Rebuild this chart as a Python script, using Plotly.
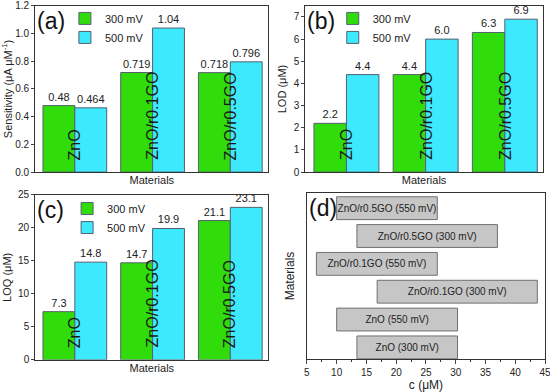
import plotly.graph_objects as go

# ---------------- data ----------------
materials = ["ZnO", "ZnO/r0.1GO", "ZnO/r0.5GO"]
series_names = ["300 mV", "500 mV"]

sens_300 = [0.48, 0.719, 0.718]
sens_500 = [0.464, 1.04, 0.796]

lod_300 = [2.2, 4.4, 6.3]
lod_500 = [4.4, 6.0, 6.9]

loq_300 = [7.3, 14.7, 21.1]
loq_500 = [14.8, 19.9, 23.1]

range_labels = ["ZnO (300 mV)", "ZnO (550 mV)", "ZnO/r0.1GO (300 mV)",
                "ZnO/r0.1GO (550 mV)", "ZnO/r0.5GO (300 mV)", "ZnO/r0.5GO (550 mV)"]
range_start = [13.4, 10.0, 16.8, 6.6, 13.4, 10.0]
range_end = [30.3, 30.3, 43.7, 26.9, 37.0, 26.9]

# ---------------- style ----------------
FONT = "Arial, Liberation Sans, sans-serif"
GREEN = "#30dc0a"
CYAN = "#3de9fd"
GREY = "#c6c6c6"
AX = "#333333"

fig = go.Figure()

panels = [
    ("x", "y", sens_300, sens_500, "{:g}", "legend"),
    ("x2", "y2", lod_300, lod_500, "{:.1f}", "legend2"),
    ("x3", "y3", loq_300, loq_500, "{:.1f}", "legend3"),
]
for xa, ya, v300, v500, fmt, leg in panels:
    for name, vals, col in [(series_names[0], v300, GREEN), (series_names[1], v500, CYAN)]:
        fig.add_trace(go.Bar(
            x=materials, y=vals, name=name, xaxis=xa, yaxis=ya, legend=leg,
            marker=dict(color=col, line=dict(color="#556070", width=1)),
            text=[fmt.format(v) for v in vals], texttemplate="%{text}",
            textposition="outside", cliponaxis=False,
            textfont=dict(family=FONT, size=11, color="#222"),
        ))
    for m in materials:
        fig.add_annotation(x=m, y=0, xref=xa, yref=ya, text=m, textangle=-90,
                           showarrow=False, yanchor="bottom", yshift=10,
                           font=dict(family=FONT, size=16, color="#1a1a1a"))

# panel (d): floating horizontal bars
fig.add_trace(go.Bar(
    y=range_labels, x=[e - s for s, e in zip(range_start, range_end)], base=range_start,
    orientation="h", xaxis="x4", yaxis="y4", showlegend=False, width=0.82,
    marker=dict(color=GREY, line=dict(color="#707070", width=1)),
    text=range_labels, texttemplate="%{text}", textposition="inside", insidetextanchor="middle",
    constraintext="none",
    textfont=dict(family=FONT, size=10, color="#222"),
))

common_ax = dict(showline=True, linecolor=AX, linewidth=1, mirror=True,
                 showgrid=False, zeroline=False, automargin=False,
                 ticklabeloverflow="allow",
                 tickfont=dict(family=FONT, size=10, color="#222"))

cat_x = dict(common_ax, showticklabels=False, ticks="",
             title=dict(text="Materials", font=dict(family=FONT, size=11, color="#222"), standoff=4))

fig.update_layout(
    width=550, height=392, autosize=False,
    margin=dict(l=0, r=0, t=0, b=0, autoexpand=False),
    paper_bgcolor="white", plot_bgcolor="white",
    barmode="group", bargap=0.18, bargroupgap=0,
    font=dict(family=FONT, size=11, color="#222"),
    xaxis=dict(cat_x, domain=[0.064, 0.488], anchor="y", range=[-0.51, 2.49]),
    yaxis=dict(common_ax, domain=[0.561, 0.985], anchor="x", range=[0, 1.2], dtick=0.2,
               tickformat=".1f", ticks="outside", ticklen=3,
               title=dict(text="Sensitivity (μA μM<sup>-1</sup>)", standoff=4,
                          font=dict(family=FONT, size=11, color="#222"))),
    xaxis2=dict(cat_x, domain=[0.555, 0.987], anchor="y2", range=[-0.52, 2.48]),
    yaxis2=dict(common_ax, domain=[0.561, 0.985], anchor="x2", range=[0, 7.5], dtick=1,
                ticks="outside", ticklen=3,
                title=dict(text="LOD (μM)", standoff=4, font=dict(family=FONT, size=11, color="#222"))),
    xaxis3=dict(cat_x, domain=[0.064, 0.488], anchor="y3", range=[-0.51, 2.49]),
    yaxis3=dict(common_ax, domain=[0.082, 0.503], anchor="x3", range=[0, 25], dtick=5,
                ticks="outside", ticklen=3,
                title=dict(text="LOQ (μM)", standoff=4, font=dict(family=FONT, size=11, color="#222"))),
    xaxis4=dict(common_ax, domain=[0.558, 0.991], anchor="y4", range=[5, 45], dtick=5,
                ticks="outside", ticklen=4,
                minor=dict(dtick=2.5, ticks="outside", ticklen=2, tickcolor=AX),
                title=dict(text="c (μM)", standoff=4, font=dict(family=FONT, size=12, color="#222"))),
    yaxis4=dict(common_ax, domain=[0.084, 0.508], anchor="x4", range=[-0.42, 5.55],
                showticklabels=False, ticks="",
                categoryorder="array", categoryarray=range_labels,
                title=dict(text="Materials", standoff=8, font=dict(family=FONT, size=12, color="#222"))),
    legend=dict(x=0.118, y=0.99, xanchor="left", yanchor="top", bgcolor="rgba(0,0,0,0)",
                font=dict(family=FONT, size=11, color="#222"), tracegroupgap=0),
    legend2=dict(x=0.605, y=0.99, xanchor="left", yanchor="top", bgcolor="rgba(0,0,0,0)",
                 font=dict(family=FONT, size=11, color="#222"), tracegroupgap=0),
    legend3=dict(x=0.122, y=0.505, xanchor="left", yanchor="top", bgcolor="rgba(0,0,0,0)",
                 font=dict(family=FONT, size=11, color="#222"), tracegroupgap=0),
)

for lbl, xa in [("(a)", "x"), ("(b)", "x2"), ("(c)", "x3"), ("(d)", "x4")]:
    ya = "y" + xa[1:]
    fig.add_annotation(text=lbl, x=0.0, y=1.0, xref=xa + " domain", yref=ya + " domain",
                       xanchor="left", yanchor="top", showarrow=False,
                       font=dict(family=FONT, size=23, color="#111"))

fig.write_html("out.html", config={"displayModeBar": False},
               post_script="document.body.style.margin='0';document.body.style.padding='0';")
